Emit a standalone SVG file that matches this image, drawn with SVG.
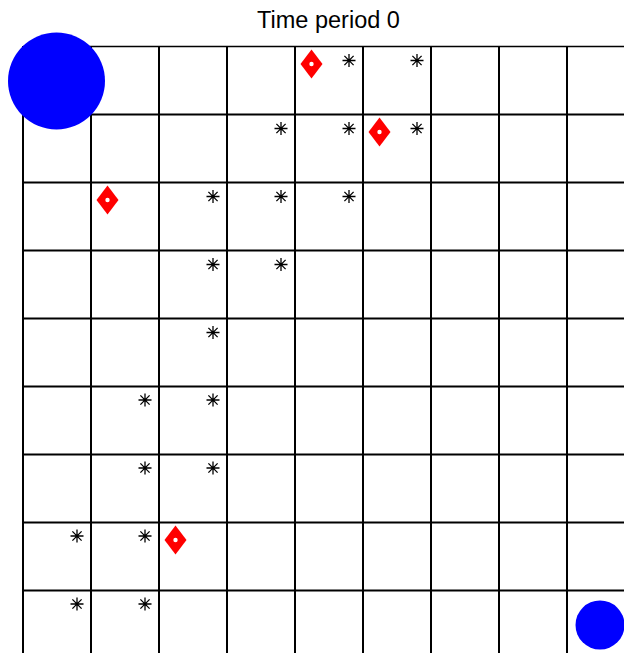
<svg xmlns="http://www.w3.org/2000/svg" xmlns:xlink="http://www.w3.org/1999/xlink" width="624" height="653" viewBox="0 0 624 653">
<style>
.grid line{stroke:#000;stroke-width:2}
.ast{stroke:#000;stroke-width:1.3;fill:none}
.dia{fill:#ff0000}
.dot{fill:#fff}
.agent{fill:#0000ff}
text{font-family:"Liberation Sans",Arial,sans-serif;font-size:23.5px;fill:#000}
</style>
<defs>
<g id="a" class="ast"><path d="M-6.5,0H6.5M0,-6.5V6.5M-4.6,-4.6L4.6,4.6M-4.6,4.6L4.6,-4.6"/></g>
<g id="d"><path class="dia" d="M0,-14.5L11,0L0,14.5L-11,0Z"/><circle class="dot" r="2.2"/></g>
</defs>
<rect width="624" height="653" fill="#fff"/>
<text x="328.5" y="28" text-anchor="middle">Time period 0</text>
<g id="grid" class="grid">
<line x1="23" y1="46.5" x2="624" y2="46.5" style="stroke-width:1.5"/>
<line x1="23" y1="114.5" x2="624" y2="114.5"/>
<line x1="23" y1="182.5" x2="624" y2="182.5"/>
<line x1="23" y1="250.5" x2="624" y2="250.5"/>
<line x1="23" y1="318.5" x2="624" y2="318.5"/>
<line x1="23" y1="386.5" x2="624" y2="386.5"/>
<line x1="23" y1="454.5" x2="624" y2="454.5"/>
<line x1="23" y1="522.5" x2="624" y2="522.5"/>
<line x1="23" y1="590.5" x2="624" y2="590.5"/>
<line x1="23" y1="46" x2="23" y2="653"/>
<line x1="91" y1="46" x2="91" y2="653"/>
<line x1="159" y1="46" x2="159" y2="653"/>
<line x1="227" y1="46" x2="227" y2="653"/>
<line x1="295" y1="46" x2="295" y2="653"/>
<line x1="363" y1="46" x2="363" y2="653"/>
<line x1="431" y1="46" x2="431" y2="653"/>
<line x1="499" y1="46" x2="499" y2="653"/>
<line x1="567" y1="46" x2="567" y2="653"/>
</g>
<g id="asterisks">
<use xlink:href="#a" x="349" y="60.5"/>
<use xlink:href="#a" x="417" y="60.5"/>
<use xlink:href="#a" x="281" y="128.5"/>
<use xlink:href="#a" x="349" y="128.5"/>
<use xlink:href="#a" x="417" y="128.5"/>
<use xlink:href="#a" x="213" y="196.5"/>
<use xlink:href="#a" x="281" y="196.5"/>
<use xlink:href="#a" x="349" y="196.5"/>
<use xlink:href="#a" x="213" y="264.5"/>
<use xlink:href="#a" x="281" y="264.5"/>
<use xlink:href="#a" x="213" y="332.5"/>
<use xlink:href="#a" x="145" y="400"/>
<use xlink:href="#a" x="213" y="400"/>
<use xlink:href="#a" x="145" y="468"/>
<use xlink:href="#a" x="213" y="468"/>
<use xlink:href="#a" x="77" y="536"/>
<use xlink:href="#a" x="145" y="536"/>
<use xlink:href="#a" x="77" y="604"/>
<use xlink:href="#a" x="145" y="604"/>
</g>
<g id="diamonds">
<use xlink:href="#d" x="311.5" y="64"/>
<use xlink:href="#d" x="379.5" y="132"/>
<use xlink:href="#d" x="107.5" y="200"/>
<use xlink:href="#d" x="175.5" y="540"/>
</g>
<g id="agent-large"><circle class="agent" cx="56.5" cy="81" r="48.5"/></g>
<g id="agent-small"><circle class="agent" cx="600" cy="625" r="24.5"/></g>
</svg>
